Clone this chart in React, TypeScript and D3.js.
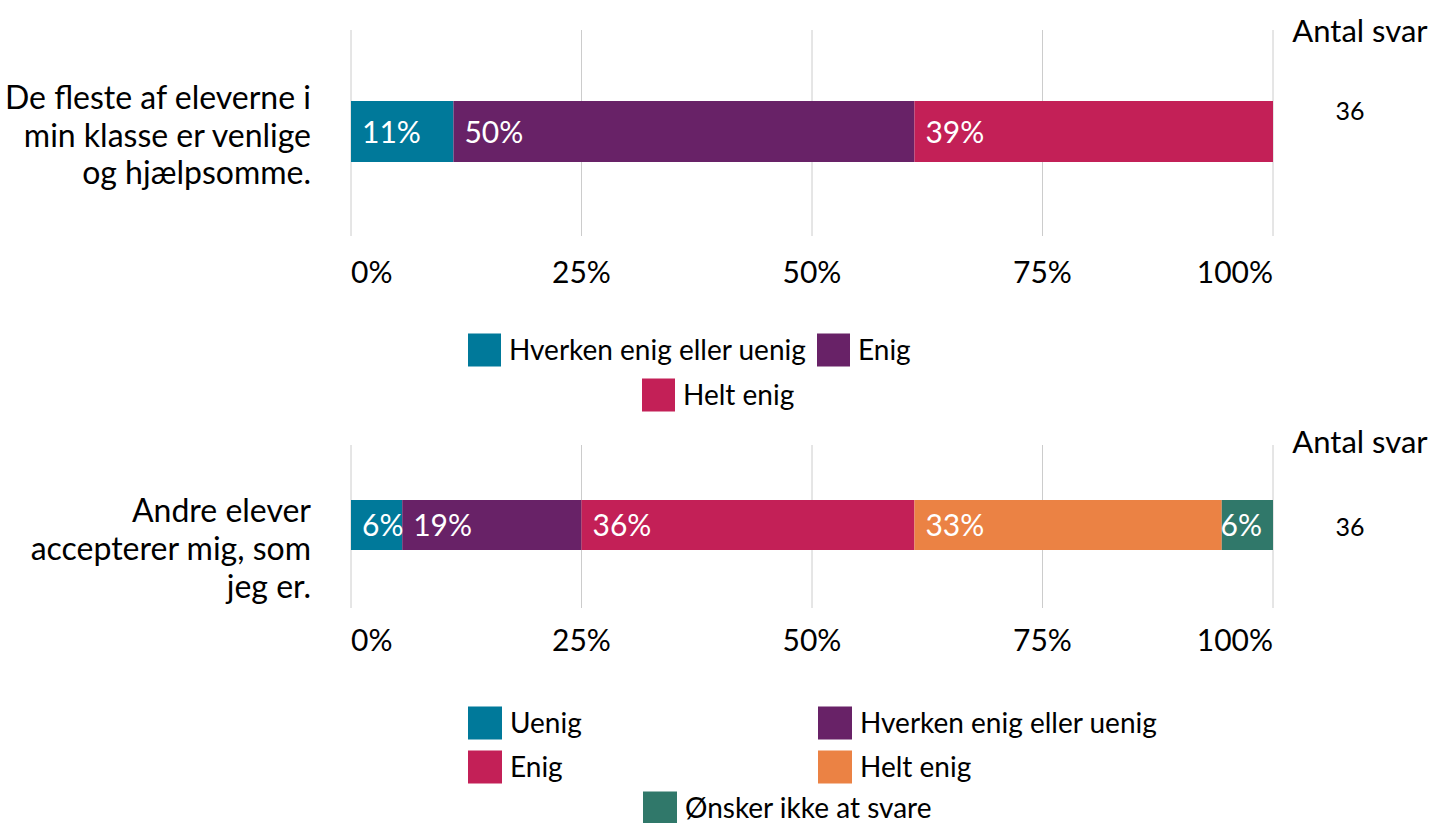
import React from "react";
import * as d3 from "d3";

const W = 1432;
const H = 823;
const FONT = "Lato, 'Open Sans', sans-serif";

const ticks = [0, 0.25, 0.5, 0.75, 1];
const tickLabels = ["0%", "25%", "50%", "75%", "100%"];

const q1Label = ["De fleste af eleverne i", "min klasse er venlige", "og hjælpsomme."];
const q1Cats = ["Hverken enig eller uenig", "Enig", "Helt enig"];
const q1Counts = [4, 18, 14];
const q1Labels = ["11%", "50%", "39%"];
const q1Colors = ["#00799A", "#682267", "#C32057"];
const q1N = 36;

const q2Label = ["Andre elever", "accepterer mig, som", "jeg er."];
const q2Cats = ["Uenig", "Hverken enig eller uenig", "Enig", "Helt enig", "Ønsker ikke at svare"];
const q2Counts = [2, 7, 13, 12, 2];
const q2Labels = ["6%", "19%", "36%", "33%", "6%"];
const q2Colors = ["#00799A", "#682267", "#C32057", "#EB8244", "#30786A"];
const q2N = 36;

const x = d3.scaleLinear().domain([0, 1]).range([351, 1273]);

type PanelProps = {
  label: string[];
  counts: number[];
  labels: string[];
  colors: string[];
  n: number;
  gridTop: number;
  gridBottom: number;
  barTop: number;
  barH: number;
  labelBaselines: number[];
  tickBaseline: number;
  antalBaseline: number;
  nBaseline: number;
};

function estWidth(s: string, fs: number) {
  let w = 0;
  for (const c of s) w += c === "%" ? fs * 0.8 : fs * 0.56;
  return w;
}

function Panel(p: PanelProps) {
  const total = d3.sum(p.counts);
  let acc = 0;
  const segs = p.counts.map((c, i) => {
    const s = acc / total;
    acc += c;
    const e = acc / total;
    return { s, e, i };
  });
  const barMid = p.barTop + p.barH / 2;
  return (
    <g>
      {ticks.map((t, i) => (
        <line key={i} x1={x(t)} x2={x(t)} y1={p.gridTop} y2={p.gridBottom} stroke="#cccccc" strokeWidth={1} />
      ))}
      {segs.map((sg) => (
        <rect key={sg.i} x={x(sg.s)} y={p.barTop} width={x(sg.e) - x(sg.s)} height={p.barH} fill={p.colors[sg.i]} />
      ))}
      {segs.map((sg) => {
        const fs = 30;
        const w = estWidth(p.labels[sg.i], fs);
        let tx = x(sg.s) + 11;
        let anchor = "start";
        if (tx + w > x(1) - 8) {
          tx = x(1) - 11;
          anchor = "end";
        }
        return (
          <text key={sg.i} x={tx} y={barMid + 11} fill="#ffffff" fontSize={fs} textAnchor={anchor as any} fontFamily={FONT}>
            {p.labels[sg.i]}
          </text>
        );
      })}
      {p.label.map((l, i) => (
        <text key={i} x={311} y={p.labelBaselines[i]} textAnchor="end" fontSize={32} fontFamily={FONT} fill="#000">
          {l}
        </text>
      ))}
      {ticks.map((t, i) => (
        <text
          key={i}
          x={x(t)}
          y={p.tickBaseline}
          textAnchor={i === 0 ? "start" : i === ticks.length - 1 ? "end" : "middle"}
          fontSize={30}
          fontFamily={FONT}
          fill="#000"
        >
          {tickLabels[i]}
        </text>
      ))}
      <text x={1360} y={p.antalBaseline} textAnchor="middle" fontSize={31} fontFamily={FONT} fill="#000">
        Antal svar
      </text>
      <text x={1350} y={p.nBaseline} textAnchor="middle" fontSize={25} fontFamily={FONT} fill="#000">
        {p.n}
      </text>
    </g>
  );
}

function LegendItem({ x0, yc, color, text, sw }: { x0: number; yc: number; color: string; text: string; sw: number }) {
  return (
    <g>
      <rect x={x0} y={yc - 16.5} width={sw} height={33} fill={color} />
      <text x={x0 + sw + 8} y={yc + 10} fontSize={28} fontFamily={FONT} fill="#000">
        {text}
      </text>
    </g>
  );
}

export default function App() {
  return (
    <div style={{ position: "absolute", left: 0, top: 0 }}>
      <svg width={W} height={H} style={{ display: "block", background: "#fff" }}>
        <Panel
          label={q1Label}
          counts={q1Counts}
          labels={q1Labels}
          colors={q1Colors}
          n={q1N}
          gridTop={30}
          gridBottom={236}
          barTop={101}
          barH={61}
          labelBaselines={[109, 147, 184]}
          tickBaseline={283}
          antalBaseline={42}
          nBaseline={120}
        />
        <LegendItem x0={468} yc={350} color={q1Colors[0]} text={q1Cats[0]} sw={33} />
        <LegendItem x0={817} yc={350} color={q1Colors[1]} text={q1Cats[1]} sw={33} />
        <LegendItem x0={642} yc={395} color={q1Colors[2]} text={q1Cats[2]} sw={33} />

        <Panel
          label={q2Label}
          counts={q2Counts}
          labels={q2Labels}
          colors={q2Colors}
          n={q2N}
          gridTop={445}
          gridBottom={608}
          barTop={500}
          barH={50}
          labelBaselines={[522, 560, 598]}
          tickBaseline={651}
          antalBaseline={453}
          nBaseline={536}
        />
        <LegendItem x0={468} yc={723} color={q2Colors[0]} text={q2Cats[0]} sw={34} />
        <LegendItem x0={818} yc={723} color={q2Colors[1]} text={q2Cats[1]} sw={34} />
        <LegendItem x0={468} yc={767} color={q2Colors[2]} text={q2Cats[2]} sw={34} />
        <LegendItem x0={818} yc={767} color={q2Colors[3]} text={q2Cats[3]} sw={34} />
        <LegendItem x0={643} yc={808} color={q2Colors[4]} text={q2Cats[4]} sw={34} />
      </svg>
    </div>
  );
}
